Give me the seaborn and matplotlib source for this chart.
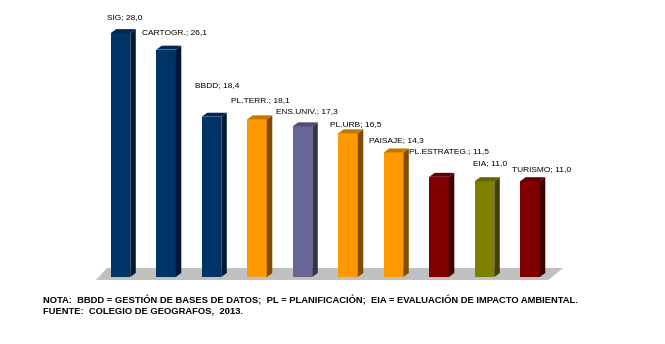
import numpy as np
import pandas as pd
import matplotlib
matplotlib.use("Agg")
import matplotlib.pyplot as plt
from matplotlib.patches import Polygon
from matplotlib.colors import to_rgb
import seaborn as sns

# ---- data ----
categories = ["SIG", "CARTOGR.", "BBDD", "PL.TERR.", "ENS.UNIV.", "PL.URB",
              "PAISAJE", "PL.ESTRATEG.", "EIA", "TURISMO"]
values = [28.0, 26.1, 18.4, 18.1, 17.3, 16.5, 14.3, 11.5, 11.0, 11.0]
groups = ["tec", "tec", "tec", "plan", "ens", "plan", "plan", "amb", "eia", "amb"]

note_lines = [
    "NOTA:  BBDD = GESTIÓN DE BASES DE DATOS;  PL = PLANIFICACIÓN;  EIA = EVALUACIÓN DE IMPACTO AMBIENTAL.",
    "FUENTE:  COLEGIO DE GEOGRAFOS,  2013.",
]

# ---- style ----
group_colors = {"tec": "#003366", "plan": "#FF9900", "ens": "#666699",
                "amb": "#800000", "eia": "#808000"}
# label offsets (pixels) from the top-left corner of each bar's front face
label_offsets = [(-4, 16), (-14, 17), (-7, 31), (-16, 19), (-17, 15),
                 (-8, 9), (-15, 12), (-20, 25), (-2, 18), (-8, 12)]

sns.set_theme(style="white")
plt.rcParams["font.family"] = ["Liberation Sans", "DejaVu Sans"]

W, H, DPI = 665, 344, 100
fig = plt.figure(figsize=(W / DPI, H / DPI), dpi=DPI)
fig.patch.set_facecolor("white")

# axes geometry in pixels
ax_left_px, ax_right_px, ax_top_px, ax_bot_px = 40, 600, 5, 290
ax = fig.add_axes([ax_left_px / W, 1 - ax_bot_px / H,
                   (ax_right_px - ax_left_px) / W, (ax_bot_px - ax_top_px) / H])

df = pd.DataFrame({"cat": categories, "val": values, "grp": groups})
palette = {c: group_colors[g] for c, g in zip(categories, groups)}

bar_w = 0.43
sns.barplot(data=df, x="cat", y="val", hue="cat", palette=palette,
            order=categories, hue_order=categories, width=bar_w,
            saturation=1, legend=False, ax=ax, zorder=3)

# scale: 45.5 px per category, 8.71 px per unit
px_per_x, px_per_y = 45.5, 8.71
c0 = 120.5
ax.set_xlim((ax_left_px - c0) / px_per_x, (ax_right_px - c0) / px_per_x)
ax.set_ylim(-(ax_bot_px - 277) / px_per_y, (277 - ax_top_px) / px_per_y)
ax.axis("off")

# 3-D depth of bars
dx = 5.5 / px_per_x
dy = 4.0 / px_per_y

def shade(c, f):
    r, g, b = to_rgb(c)
    return (r * f, g * f, b * f)

n = len(categories)
# floor
floor = Polygon([(-0.54, -0.34), (n - 1 + 0.40, -0.34),
                 (n - 1 + 0.73, 1.03), (-0.30, 1.03)],
                closed=True, facecolor="#C0C0C0", edgecolor="none", zorder=1)
ax.add_patch(floor)

for i, p in enumerate(ax.patches[:n]):
    x0, y0 = p.get_x(), p.get_y()
    w, h = p.get_width(), p.get_height()
    col = p.get_facecolor()
    p.set_edgecolor("none")
    side = Polygon([(x0 + w, y0), (x0 + w + dx, y0 + dy),
                    (x0 + w + dx, y0 + h + dy), (x0 + w, y0 + h)],
                   closed=True, facecolor=shade(col, 0.5), edgecolor="none", zorder=3)
    top = Polygon([(x0, y0 + h), (x0 + w, y0 + h),
                   (x0 + w + dx, y0 + h + dy), (x0 + dx, y0 + h + dy)],
                  closed=True, facecolor=shade(col, 0.78), edgecolor="none", zorder=3)
    ax.add_patch(side)
    ax.add_patch(top)

for i, (cat, v) in enumerate(zip(categories, values)):
    p = ax.patches[i]
    ox, oy = label_offsets[i]
    txt = f"{cat}; " + f"{v:.1f}".replace(".", ",")
    ax.annotate(txt, xy=(p.get_x(), p.get_height()), xytext=(ox, oy),
                textcoords="offset pixels", ha="left", va="center",
                fontsize=6, color="black", zorder=5)

fig.text(43 / W, 1 - 300.5 / H, note_lines[0], ha="left", va="center",
         fontsize=6.75, fontweight="bold", color="black")
fig.text(43 / W, 1 - 311 / H, note_lines[1], ha="left", va="center",
         fontsize=6.75, fontweight="bold", color="black")

fig.savefig("out.png", dpi=DPI, facecolor="white")
